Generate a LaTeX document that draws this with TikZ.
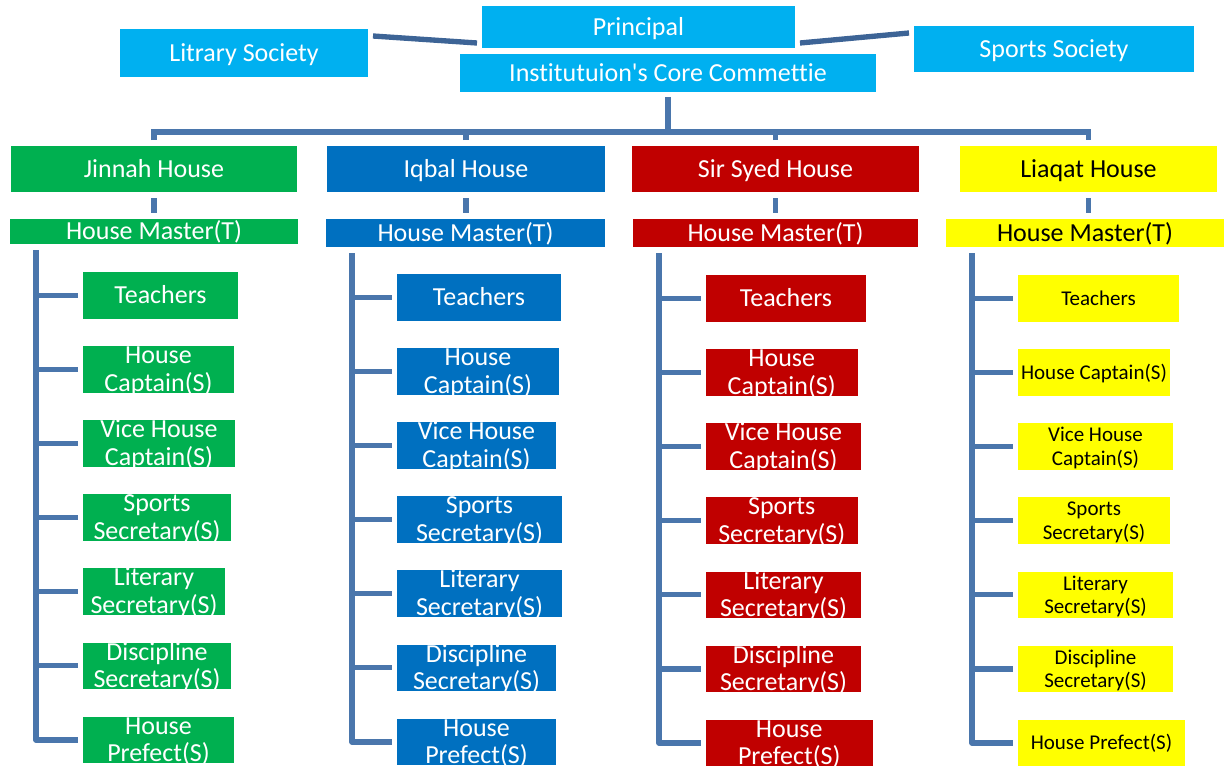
\documentclass[tikz,border=0pt]{standalone}
\usepackage{fontspec}
\setmainfont[Ligatures=NoCommon]{Carlito}
\usetikzlibrary{positioning}

\definecolor{topblue}{RGB}{0,176,240}
\definecolor{jgreen}{RGB}{0,176,80}
\definecolor{iblue}{RGB}{0,112,192}
\definecolor{sred}{RGB}{192,0,0}
\definecolor{lyellow}{RGB}{255,255,0}
\definecolor{linkblue}{RGB}{74,118,172}
\definecolor{topline}{RGB}{61,100,150}

\newcommand{\duo}[2]{\begin{tabular}[t]{@{}c@{}}#1\\#2\end{tabular}}

\tikzset{
  sized/.style 2 args={minimum width=#1*0.75pt, minimum height=#2*0.75pt},
  unit/.style={inner sep=0pt, outer sep=0pt, text=white,
    font=\fontsize{19.5pt}{20.8pt}\selectfont},
  small/.style={text=black, font=\fontsize{15.75pt}{17.5pt}\selectfont},
  oneline/.style={text height=12.6pt, text depth=0pt},
  oneliner/.style={text height=10.1pt, text depth=0pt},
  twoline/.style={text height=0pt, text depth=8.7pt},
  twoliner/.style={text height=0pt, text depth=7.2pt},
  link/.style={draw=linkblue, line width=4pt},
}

\begin{document}
\begin{tikzpicture}[x=0.75pt, y=-0.75pt]
\useasboundingbox (0,0) rectangle (1224,767);

% top
\node[unit, oneline, fill=topblue, sized={313}{42}] (principal) at (638.5,27) {Principal};
\node[unit, oneline, fill=topblue, sized={416}{38}] (core) at (668,73) {Institutuion\textquotesingle s Core Commettie};
\node[unit, oneline, fill=topblue, sized={248}{48}] (litrary) at (244,53) {Litrary Society};
\node[unit, oneline, fill=topblue, sized={280}{46}] (sports) at (1054,49) {Sports Society};

\draw[link, draw=topline] ([shift={(5,7)}]litrary.north east) -- ([shift={(-5,37)}]principal.north west);
\draw[link, draw=topline] ([shift={(5,37)}]principal.north east) -- ([shift={(-5,7)}]sports.north west);

% houses
\node[unit, oneline, fill=jgreen, sized={286}{46}] (jh) at (154,169) {Jinnah House};
\node[unit, oneline, fill=iblue, sized={278}{46}] (ih) at (466,169) {Iqbal House};
\node[unit, oneline, fill=sred, sized={287}{46}] (sh) at (775.5,169) {Sir Syed House};
\node[unit, oneline, fill=lyellow, text=black, sized={257}{46}] (lh) at (1088.5,169) {Liaqat House};

\node[unit, oneline, fill=jgreen, sized={288}{25}] (jm) at (154,231.5) {House Master(T)};
\node[unit, oneline, fill=iblue, sized={279}{28}] (im) at (465.5,233) {House Master(T)};
\node[unit, oneline, fill=sred, sized={285}{28}] (sm) at (775.5,233) {House Master(T)};
\node[unit, oneline, fill=lyellow, text=black, sized={278}{28}] (lm) at (1085,233) {House Master(T)};

\coordinate (bus) at ([shift={(0,40)}]core.south);
\draw[link] ([shift={(0,5)}]core.south) -- (bus);
\draw[link] ([shift={(0,-6)}]jh.north) |- (bus) -| ([shift={(0,-6)}]lh.north);
\foreach \h in {ih,sh}
    \draw[link] ([shift={(0,-6)}]\h.north) -- (\h.north |- bus);
\foreach \h in {jh,ih,sh,lh}
    \draw[link] ([shift={(0,6)}]\h.south) -- ++(0,15);

% Jinnah House
\foreach \s/\t/\w [count=\i] in {oneline/Teachers/155, twoline/{\duo{House}{Captain(S)}}/151,
    twoline/{\duo{Vice House}{Captain(S)}}/152, twoline/{\duo{Sports}{Secretary(S)}}/148,
    twoline/{\duo{Literary}{Secretary(S)}}/142, twoline/{\duo{Discipline}{Secretary(S)}}/148,
    twoline/{\duo{House}{Prefect(S)}}/151}
    \node[unit, \s, fill=jgreen, sized={\w}{46.5}, anchor=west] (j\i) at (83,{295.3+(\i-1)*74.1}) {\t};

% Iqbal House
\foreach \s/\t/\w [count=\i] in {oneline/Teachers/164, twoline/{\duo{House}{Captain(S)}}/162,
    twoline/{\duo{Vice House}{Captain(S)}}/159, twoline/{\duo{Sports}{Secretary(S)}}/165,
    twoline/{\duo{Literary}{Secretary(S)}}/165, twoline/{\duo{Discipline}{Secretary(S)}}/159,
    twoline/{\duo{House}{Prefect(S)}}/159}
    \node[unit, \s, fill=iblue, sized={\w}{46.5}, anchor=west] (i\i) at (397,{297.3+(\i-1)*74.1}) {\t};

% Sir Syed House
\foreach \s/\t/\w [count=\i] in {oneline/Teachers/160, twoline/{\duo{House}{Captain(S)}}/151.5,
    twoline/{\duo{Vice House}{Captain(S)}}/155, twoline/{\duo{Sports}{Secretary(S)}}/151.5,
    twoline/{\duo{Literary}{Secretary(S)}}/155, twoline/{\duo{Discipline}{Secretary(S)}}/155,
    twoline/{\duo{House}{Prefect(S)}}/166.5}
    \node[unit, \s, fill=sred, sized={\w}{46.5}, anchor=west] (s\i) at (706,{298.4+(\i-1)*74.1}) {\t};

% Liaqat House
\foreach \s/\t/\w [count=\i] in {oneliner/Teachers/161, oneliner/House Captain(S)/152,
    twoliner/{\duo{Vice House}{Captain(S)}}/155, twoliner/{\duo{Sports}{Secretary(S)}}/152,
    twoliner/{\duo{Literary}{Secretary(S)}}/155, twoliner/{\duo{Discipline}{Secretary(S)}}/155,
    oneliner/House Prefect(S)/167}
    \node[unit, small, \s, fill=lyellow, sized={\w}{46.5}, anchor=west] (l\i) at (1018,{298.4+(\i-1)*74.1}) {\t};

% spines and branches
\foreach \m/\c in {jm/j,im/i,sm/s,lm/l} {
    \coordinate (\c top) at ([shift={(26,6)}]\m.south west);
    \draw[link, line join=round] (\c top) |- ([shift={(-5.5,0)}]\c7.west);
    \foreach \i in {1,...,6}
        \draw[link] (\c top |- \c\i.west) -- ([shift={(-5.5,0)}]\c\i.west);
}

\end{tikzpicture}
\end{document}
